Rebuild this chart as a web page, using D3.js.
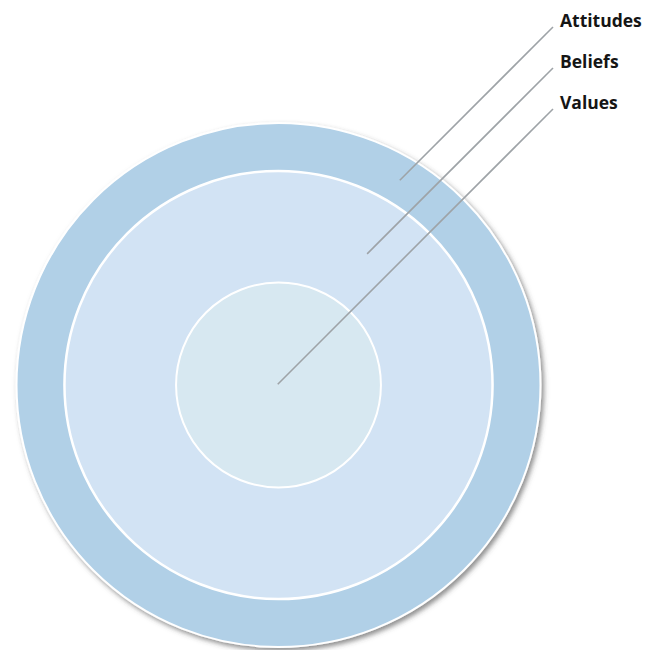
<!DOCTYPE html>
<html>
<head>
<meta charset="utf-8">
<script src="https://cdn.jsdelivr.net/npm/d3@7"></script>
<style>
  html, body { margin: 0; padding: 0; background: #fff; }
  svg { display: block; }
</style>
</head>
<body>
<div id="chart"></div>
<script>

// layers, outside to inside
var layers = ["Attitudes", "Beliefs", "Values"];
// relative size of each layer (outer edge), outer = 100
var layerSize = [100, 81.7, 39.1];
var layerFill = ["#b1d0e7", "#d2e3f4", "#d7e8f1"];

var width = 645, height = 650;
var cx = 278.5, cy = 385;

var svg = d3.select("#chart")
	.append("svg")
	.attr("width", width)
	.attr("height", height);

var defs = svg.append("defs");
var shadow = defs.append("filter")
	.attr("id", "shadow")
	.attr("x", "-10%").attr("y", "-10%")
	.attr("width", "125%").attr("height", "125%");
shadow.append("feDropShadow")
	.attr("dx", 2.5).attr("dy", 3)
	.attr("stdDeviation", 2.5)
	.attr("flood-color", "#444")
	.attr("flood-opacity", 0.6);

var r = d3.scaleLinear().domain([0, 100]).range([0, 262]);

// build the data for each ring
var data = [];
for (var i = 0; i < layers.length; i++) {
	var outer = r(layerSize[i]);
	var inner = (i + 1 < layers.length) ? r(layerSize[i + 1]) : 0;
	data.push({
		name: layers[i],
		outer: outer,
		// the pointer lands in the middle of the ring (centre for the core)
		target: (i + 1 < layers.length) ? (outer + inner) / 2 : 0,
		fill: layerFill[i],
		index: i
	});
}

var rings = svg.append("g");

rings.selectAll("circle")
	.data(data)
	.enter().append("circle")
	.attr("cx", cx)
	.attr("cy", cy)
	.attr("r", function(d) { return d.outer; })
	.style("fill", function(d) { return d.fill; })
	.style("stroke", "#fff")
	.style("stroke-width", function(d) { return d.index == 1 ? 2.5 : 2; })
	.attr("filter", function(d) { return d.index == 0 ? "url(#shadow)" : null; });

// label positions
var labelY = d3.scalePoint().domain(layers).range([27, 109]);
var endX = 553;
var labelX = 560;

// find where a 45 degree line from the label meets the target radius
function startPoint(d) {
	var ex = endX, ey = labelY(d.name);
	var ux = -Math.SQRT1_2, uy = Math.SQRT1_2;
	var dx = cx - ex, dy = cy - ey;
	var proj = dx * ux + dy * uy;
	var perp = Math.abs(dx * uy - dy * ux);
	var s = proj - Math.sqrt(Math.max(0, d.target * d.target - perp * perp));
	return [ex + s * ux, ey + s * uy];
}

var pointers = svg.append("g");

pointers.selectAll("line")
	.data(data)
	.enter().append("line")
	.attr("x1", function(d) { return startPoint(d)[0]; })
	.attr("y1", function(d) { return startPoint(d)[1]; })
	.attr("x2", endX)
	.attr("y2", function(d) { return labelY(d.name); })
	.style("stroke", "#9ea3a7")
	.style("stroke-width", 1.6);

pointers.selectAll("text")
	.data(data)
	.enter().append("text")
	.attr("x", labelX)
	.attr("y", function(d) { return labelY(d.name); })
	.style("font-family", "'Open Sans', sans-serif")
	.style("font-weight", "bold")
	.style("font-size", "17.5px")
	.style("fill", "#151515")
	.text(function(d) { return d.name; });

</script>
</body>
</html>
